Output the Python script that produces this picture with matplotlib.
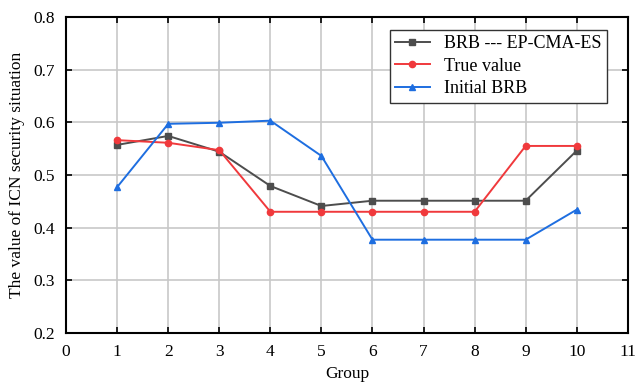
import matplotlib
matplotlib.use("Agg")
import matplotlib.pyplot as plt

groups = [1, 2, 3, 4, 5, 6, 7, 8, 9, 10]
brb_ep = [0.557, 0.574, 0.544, 0.479, 0.441, 0.451, 0.451, 0.451, 0.451, 0.546]
true_value = [0.566, 0.561, 0.547, 0.430, 0.430, 0.430, 0.430, 0.430, 0.555, 0.555]
initial_brb = [0.477, 0.597, 0.599, 0.603, 0.536, 0.377, 0.377, 0.377, 0.377, 0.434]

plt.rcParams["font.family"] = ["Liberation Serif", "DejaVu Serif"]

fig = plt.figure(figsize=(6.36, 3.84), dpi=100)
ax = fig.add_axes([0.104, 0.133, 0.883, 0.823])

ax.plot(groups, brb_ep, color="#4d4d4d", marker="s", ms=4, lw=1.4,
        label="BRB --- EP-CMA-ES", zorder=3)
ax.plot(groups, true_value, color="#f0393c", marker="o", ms=4.5, lw=1.4,
        label="True value", zorder=3)
ax.plot(groups, initial_brb, color="#1e6ee0", marker="^", ms=5, lw=1.4,
        label="Initial BRB", zorder=3)

ax.set_xlim(0, 11)
ax.set_ylim(0.2, 0.8)
ax.set_xticks(range(0, 12))
ax.set_yticks([0.2, 0.3, 0.4, 0.5, 0.6, 0.7, 0.8])
ax.grid(True, color="#c8c8c8", lw=1.2)
ax.set_axisbelow(True)
ax.tick_params(direction="in", top=True, right=True, length=4, width=1.2,
               labelsize=12.5, pad=8)
for s in ax.spines.values():
    s.set_linewidth(1.5)

ax.set_xlabel("Group", fontsize=12.5, labelpad=4)
ax.set_ylabel("The value of ICN security situation", fontsize=12.5, labelpad=6)

leg = ax.legend(loc="upper right", bbox_to_anchor=(0.963, 0.959), fontsize=13,
                fancybox=False, framealpha=1, edgecolor="#333333",
                handlelength=1.9, borderpad=0.3, labelspacing=0.3,
                borderaxespad=0)
leg.get_frame().set_linewidth(1.0)

fig.savefig("out.png", dpi=100)
